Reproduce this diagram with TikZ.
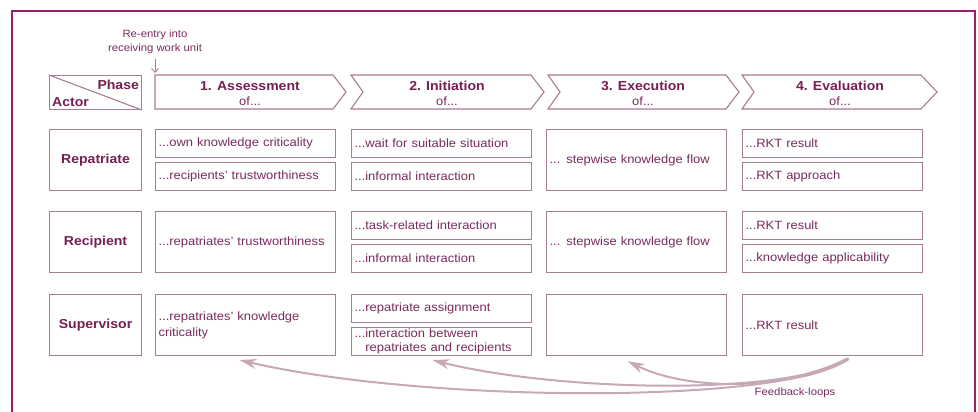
\documentclass[tikz,border=0pt]{standalone}
\usepackage{fontspec}
\setmainfont{Liberation Sans}[FakeStretch=1.08]
\usetikzlibrary{arrows.meta}

\definecolor{framec}{RGB}{158,28,108}
\definecolor{boxc}{RGB}{165,125,148}
\definecolor{txt}{RGB}{120,42,92}
\definecolor{lbl}{RGB}{118,30,82}
\definecolor{loopc}{RGB}{198,168,183}

\newcommand\fsText{\fontsize{12}{16}\selectfont}
\newcommand\fsBold{\fontsize{13}{16}\selectfont\bfseries}
\newcommand\fsSmall{\fontsize{10.5}{14}\selectfont}

\begin{document}
\begin{tikzpicture}[x=1pt,y=-1pt,
  every node/.style={text=txt},
  cell/.style={draw=boxc, line width=1.1pt, anchor=north west, inner xsep=3pt,
    inner ysep=0pt, text width=174pt, align=left, font=\fsText},
  actorbox/.style={draw=boxc, line width=1.1pt, anchor=north west, inner sep=0pt,
    minimum width=92pt, minimum height=61pt, font=\fsBold, text=lbl},
  chev/.style={draw=boxc, line width=1.1pt, line join=miter},
  ttl/.style={font=\fsBold, text=lbl, inner sep=0pt},
  ofx/.style={font=\fsText, inner sep=0pt},
  fb/.style={draw=loopc, line width=2pt, line cap=round,
    -{Stealth[length=17pt,width=10pt]}},
  fbthick/.style={draw=loopc, line width=3.6pt, line cap=round,
    dash pattern=on 45pt off 2000pt}
]
\useasboundingbox (0,0) rectangle (978,412);

% outer frame
\draw[framec, line width=2pt] (12,412) -- (12,11) -- (975,11) -- (975,412);

% header: actor / phase
\node[draw=boxc, line width=1.1pt, anchor=north west, inner sep=0pt,
  minimum width=92pt, minimum height=34pt] (hdr) at (49,75) {};
\draw[boxc, line width=1.1pt] (hdr.north west) -- (hdr.south east);
\node[ttl, anchor=north east] (phase) at ([xshift=-3pt,yshift=-5pt]hdr.north east) {Phase};
\node[ttl, anchor=south west] (actor) at ([xshift=3pt,yshift=3pt]hdr.south west) {Actor};

% phase chevrons
\draw[chev] (155,75) -- (333,75) -- (346,92) -- (333,109) -- (155,109) -- cycle;
\draw[chev] (351,75) -- (531,75) -- (544,92) -- (531,109) -- (351,109) -- (363,92) -- cycle;
\draw[chev] (548,75) -- (726,75) -- (739,92) -- (726,109) -- (548,109) -- (560,92) -- cycle;
\draw[chev] (742,75) -- (921,75) -- (937,92) -- (921,109) -- (742,109) -- (754,92) -- cycle;
\coordinate (c1nw) at (155,75);

\node[ttl] (t1) at (250,86) {1. Assessment};
\node[ofx] (o1) at (250,101) {of...};
\node[ttl] (t2) at (447,86) {2. Initiation};
\node[ofx] (o2) at (447,101) {of...};
\node[ttl] (t3) at (643,86) {3. Execution};
\node[ofx] (o3) at (643,101) {of...};
\node[ttl] (t4) at (840,86) {4. Evaluation};
\node[ofx] (o4) at (840,101) {of...};

% re-entry marker
\node[font=\fsSmall, align=center, inner sep=0pt] (reentry) at (155,42)
  {Re-entry into\\receiving work unit};
\draw[boxc, line width=0.8pt, -{Straight Barb[length=4pt,width=7pt]}]
  ([yshift=-5pt]reentry.south -| c1nw) -- ([yshift=2pt]c1nw);

% actors
\node[actorbox] (a1) at (49,129) {Repatriate};
\node[actorbox] (a2) at (49,211) {Recipient};
\node[actorbox] (a3) at (49,294) {Supervisor};

% repatriate row
\node[cell, minimum height=28pt] (r1a) at (155,129) {...own knowledge criticality};
\node[cell, minimum height=28pt] (r1b) at (155,162) {...recipients' trustworthiness};
\node[cell, minimum height=28pt] (r2a) at (351,129) {...wait for suitable situation};
\node[cell, minimum height=28pt] (r2b) at (351,162) {...informal interaction};
\node[cell, minimum height=61pt] (r3)  at (546,129) {... stepwise knowledge flow};
\node[cell, minimum height=28pt] (r4a) at (742,129) {...RKT result};
\node[cell, minimum height=28pt] (r4b) at (742,162) {...RKT approach};

% recipient row
\node[cell, minimum height=61pt] (p1)  at (155,211) {...repatriates' trustworthiness};
\node[cell, minimum height=28pt] (p2a) at (351,211) {...task-related interaction};
\node[cell, minimum height=28pt] (p2b) at (351,244) {...informal interaction};
\node[cell, minimum height=61pt] (p3)  at (546,211) {... stepwise knowledge flow};
\node[cell, minimum height=28pt] (p4a) at (742,211) {...RKT result};
\node[cell, minimum height=28pt] (p4b) at (742,244) {...knowledge applicability};

% supervisor row
\node[cell, minimum height=61pt] (s1)  at (155,294) {...repatriates' knowledge\\criticality};
\node[cell, minimum height=28pt] (s2a) at (351,294) {...repatriate assignment};
\node[cell, minimum height=28pt, font=\fontsize{12}{14}\selectfont] (s2b) at (351,327)
  {...interaction between\\\phantom{...}repatriates and recipients};
\node[cell, minimum height=61pt] (s3)  at (546,294) {};
\node[cell, minimum height=61pt] (s4)  at (742,294) {...RKT result};

% feedback loops, heavier where they leave the evaluation box
\coordinate (fbs) at ([xshift=15pt,yshift=-3pt]s4.south);
\coordinate (h1) at ([xshift=-6pt,yshift=-4pt]s1.south);
\coordinate (h2) at ([xshift=-9pt,yshift=-4pt]s2b.south);
\coordinate (h3) at ([xshift=-9pt,yshift=-5pt]s3.south);
\draw[fb] (fbs) .. controls (790,404) and (430,404) .. (h1);
\draw[fb] (fbs) .. controls (790,396) and (560,392) .. (h2);
\draw[fb] (fbs) .. controls (790,390) and (690,392) .. (h3);
\path[fbthick] (fbs) .. controls (790,390) and (690,392) .. (h3);
\node[font=\fsSmall, inner sep=0pt] (fbl) at (795,393) {Feedback-loops};
\end{tikzpicture}
\end{document}
